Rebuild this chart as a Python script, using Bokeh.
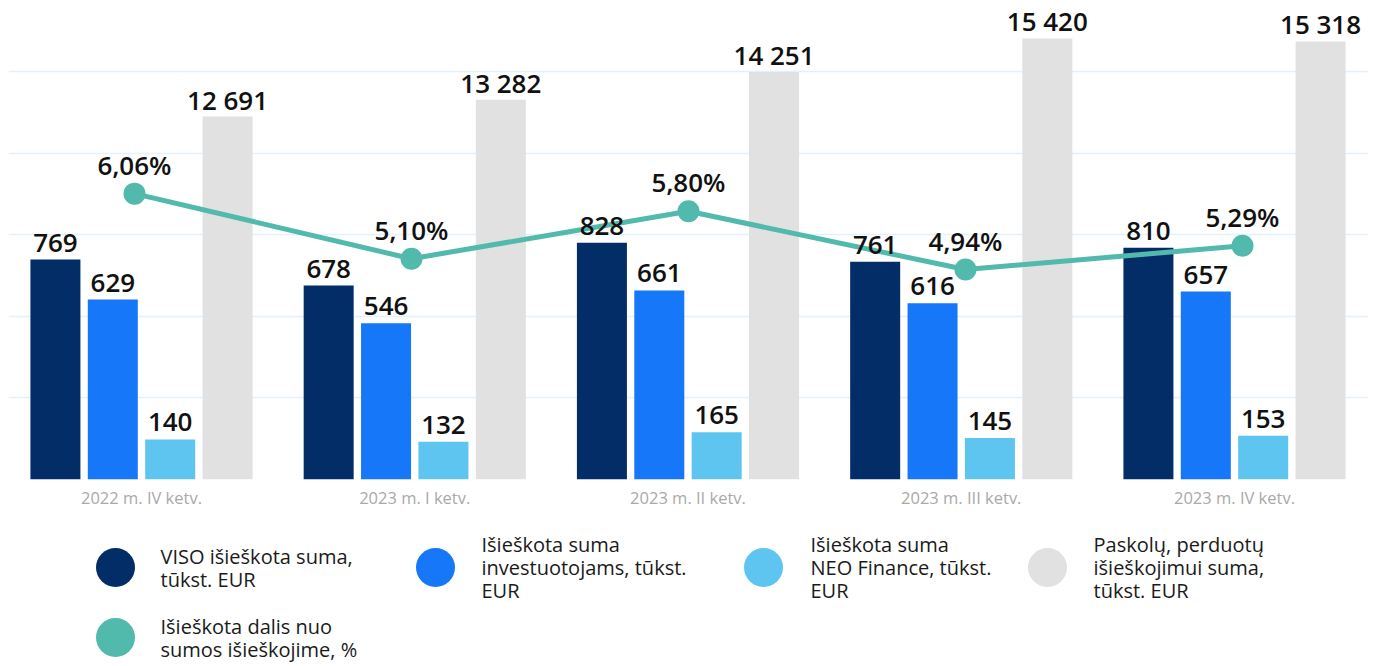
from bokeh.plotting import figure
from bokeh.models import Range1d, FixedTicker, ColumnDataSource
from bokeh.layouts import column
from bokeh.embed import file_html
from bokeh.resources import INLINE
from bokeh.core.properties import value

# ---------------- data ----------------
categories = ["2022 m. IV ketv.", "2023 m. I ketv.", "2023 m. II ketv.",
              "2023 m. III ketv.", "2023 m. IV ketv."]
viso = [769, 678, 828, 761, 810]
investuotojams = [629, 546, 661, 616, 657]
neo_finance = [140, 132, 165, 145, 153]
perduota = [12691, 13282, 14251, 15420, 15318]
dalis = [6.06, 5.10, 5.80, 4.94, 5.29]

legend_labels = [
    ["VISO išieškota suma,", "tūkst. EUR"],
    ["Išieškota suma", "investuotojams, tūkst.", "EUR"],
    ["Išieškota suma", "NEO Finance, tūkst.", "EUR"],
    ["Paskolų, perduotų", "išieškojimui suma,", "tūkst. EUR"],
    ["Išieškota dalis nuo", "sumos išieškojime, %"],
]

# ---------------- style ----------------
FONT = "Open Sans"
LABEL_FONT = "Open Sans SemiBold"
C_DARK = "#022d66"
C_BLUE = "#1677f9"
C_LIGHT = "#5ec5f0"
C_GREY = "#e1e1e1"
C_TEAL = "#52b9ad"
C_GRID = "#e2f1fb"

LEFT = 8
RIGHT = 6
TOP = 8
FRAME_W = 1360
FRAME_H = 471
BOTTOM = 34
MAIN_H = TOP + FRAME_H + BOTTOM
FIG_W = LEFT + FRAME_W + RIGHT
LEG_H = 664 - MAIN_H
PX_PER_UNIT = 0.286
Y_END = FRAME_H / PX_PER_UNIT
GRID_STEP = 285

idx = list(range(len(categories)))


def fmt_thousands(v):
    return f"{v:,}".replace(",", " ")


p = figure(frame_width=FRAME_W, frame_height=FRAME_H,
           x_range=Range1d(-0.4867, 4.4904), y_range=Range1d(0, Y_END),
           output_backend="svg", toolbar_location=None,
           min_border_left=LEFT, min_border_right=RIGHT,
           min_border_top=TOP, min_border_bottom=BOTTOM)
p.extra_y_ranges = {"grey": Range1d(0, Y_END * 10),
                    "pct": Range1d(1.8437, 8.7906)}
p.extra_x_ranges = {"line": Range1d(-0.4549, 4.4549)}
p.outline_line_color = None
p.background_fill_color = "white"
p.border_fill_color = "white"

p.yaxis.visible = False
p.xgrid.visible = False
p.ygrid.ticker = FixedTicker(ticks=[GRID_STEP * k for k in range(6)])
p.ygrid.grid_line_color = C_GRID
p.ygrid.grid_line_width = 1.5

p.xaxis.ticker = FixedTicker(ticks=idx)
p.xaxis.major_label_overrides = {i: c for i, c in zip(idx, categories)}
p.xaxis.axis_line_color = None
p.xaxis.major_tick_line_color = None
p.xaxis.minor_tick_line_color = None
p.xaxis.major_tick_out = 0
p.xaxis.major_tick_in = 0
p.xaxis.major_label_standoff = 6
p.xaxis.major_label_text_font = FONT
p.xaxis.major_label_text_font_size = "16.5px"
p.xaxis.major_label_text_color = "#a9a9a9"

BAR_W = 0.183
offsets = [-0.315, -0.105, 0.105, 0.315]
series = [(viso, C_DARK, "default"), (investuotojams, C_BLUE, "default"),
          (neo_finance, C_LIGHT, "default"), (perduota, C_GREY, "grey")]

label_kw = dict(text_align="center", text_baseline="alphabetic",
                text_font=value(LABEL_FONT), text_font_size="26px",
                text_color="#111111")

label_sources = []
for (vals, color, rng), off in zip(series, offsets):
    src = ColumnDataSource(dict(
        x=[i + off for i in idx], top=vals,
        label=[fmt_thousands(v) for v in vals]))
    kw = {} if rng == "default" else {"y_range_name": rng}
    p.vbar(x="x", top="top", bottom=0, width=BAR_W, source=src,
           fill_color=color, line_color=None, **kw)
    label_sources.append((src, kw))

lsrc = ColumnDataSource(dict(
    x=idx, y=dalis, label=[f"{v:.2f}%".replace(".", ",") for v in dalis]))
p.line(x="x", y="y", source=lsrc, line_color=C_TEAL, line_width=5,
       x_range_name="line", y_range_name="pct")
p.scatter(x="x", y="y", source=lsrc, size=22, fill_color=C_TEAL,
          line_color=None, x_range_name="line", y_range_name="pct")

for src, kw in label_sources:
    p.text(x="x", y="top", text="label", source=src, y_offset=-17,
           **label_kw, **kw)
p.text(x="x", y="y", text="label", source=lsrc, y_offset=-29,
       x_range_name="line", y_range_name="pct", **label_kw)

# ---------------- legend (separate panel, frame aligned with chart) ----------------
lg = figure(width=FIG_W, height=LEG_H,
            x_range=Range1d(LEFT, FIG_W - RIGHT),
            y_range=Range1d(LEG_H, 0), output_backend="svg",
            toolbar_location=None, min_border=0,
            min_border_left=LEFT, min_border_right=RIGHT)
lg.axis.visible = False
lg.grid.visible = False
lg.outline_line_color = None

leg_colors = [C_DARK, C_BLUE, C_LIGHT, C_GREY, C_TEAL]
circle_x = [115, 435, 763, 1047, 115]
text_x = [160, 481, 810, 1093, 160]
row_y = [567 - MAIN_H] * 4 + [637 - MAIN_H]
LINE_STEP = 23

lg.scatter(x=circle_x, y=row_y, size=39, fill_color=leg_colors, line_color=None)
tx, ty, tt = [], [], []
for lines, x0, cy in zip(legend_labels, text_x, row_y):
    n = len(lines)
    for k, t in enumerate(lines):
        tx.append(x0)
        ty.append(cy + (k - (n - 1) / 2) * LINE_STEP)
        tt.append(t)
lg.text(x=tx, y=ty, text=tt, text_align="left", text_baseline="middle",
        text_font=value(FONT), text_font_size="20px", text_color="#1a1a1a")

layout = column(p, lg, spacing=0)
open("out.html", "w").write(file_html(layout, INLINE))
